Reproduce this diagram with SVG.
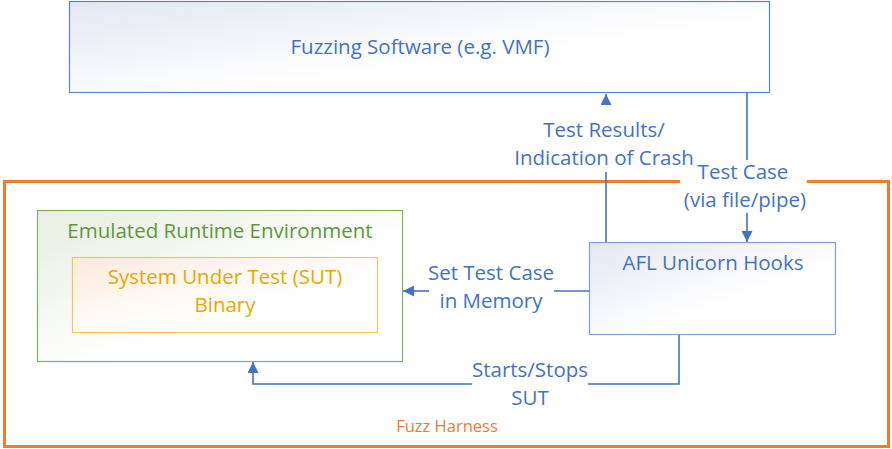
<svg xmlns="http://www.w3.org/2000/svg" width="892" height="449" viewBox="0 0 892 449">
<style>
text{font-family:"Open Sans","Liberation Sans",sans-serif;text-anchor:middle}
.b{fill:#4472c4;font-size:20.5px}
.g{fill:#5b9a3a;font-size:20.5px}
.y{fill:#e8a900;font-size:20.5px}
.o{fill:#ed7d31;font-size:16.5px}
.c{fill:none;stroke:#4472c4;stroke-width:1.6}
</style>
<defs>
<linearGradient id="gb" x1="0" y1="0" x2="1" y2="1"><stop offset="0" stop-color="#e4e7f3"/><stop offset="0.6" stop-color="#ffffff"/></linearGradient>
<linearGradient id="gg" x1="0" y1="0" x2="1" y2="1"><stop offset="0" stop-color="#e7eee2"/><stop offset="0.6" stop-color="#ffffff"/></linearGradient>
<linearGradient id="gy" x1="0" y1="0" x2="1" y2="1"><stop offset="0" stop-color="#fdeadb"/><stop offset="0.6" stop-color="#ffffff"/></linearGradient>
<marker id="ah" viewBox="0 0 10 10" refX="10" refY="5" markerWidth="11" markerHeight="11" markerUnits="userSpaceOnUse" orient="auto"><path d="M0,0L10,5L0,10z" fill="#4472c4"/></marker>
</defs>
<g id="harness">
<path d="M680,181.5H4.5V446.5H888.5V181.5H807" fill="none" stroke="#ed7d31" stroke-width="3"/>
<text class="o" x="447" y="432">Fuzz Harness</text>
</g>
<g id="fuzzer">
<rect x="69.5" y="1.5" width="700" height="91" fill="url(#gb)" stroke="#5f83c9" stroke-width="1.2"/>
<text class="b" x="420" y="54">Fuzzing Software (e.g. VMF)</text>
</g>
<g id="emulated">
<rect x="37.5" y="210.5" width="365" height="151" fill="url(#gg)" stroke="#7fb35a" stroke-width="1.2"/>
<text class="g" x="220" y="238">Emulated Runtime Environment</text>
</g>
<g id="sut">
<rect x="72.5" y="257.5" width="305" height="75" fill="url(#gy)" stroke="#f0c85a" stroke-width="1.2"/>
<text class="y" x="225" y="284">System Under Test (SUT)</text>
<text class="y" x="225" y="312">Binary</text>
</g>
<g id="afl">
<rect x="589.5" y="242.5" width="246" height="92" fill="url(#gb)" stroke="#7f9fd6" stroke-width="1.2"/>
<text class="b" x="713" y="270">AFL Unicorn Hooks</text>
</g>
<g id="connectors">
<path class="c" d="M606,242V172"/>
<path class="c" d="M606,104V94" marker-end="url(#ah)"/>
<text class="b" x="604" y="137">Test Results/</text>
<text class="b" x="604" y="165">Indication of Crash</text>
<path class="c" d="M747,92V160"/>
<path class="c" d="M747,213V242" marker-end="url(#ah)"/>
<text class="b" x="743" y="179">Test Case</text>
<text class="b" x="745" y="207">(via file/pipe)</text>
<path class="c" d="M589,291H554"/>
<path class="c" d="M429,291H403" marker-end="url(#ah)"/>
<text class="b" x="491" y="280">Set Test Case</text>
<text class="b" x="491" y="308">in Memory</text>
<path class="c" d="M679,335V384H588"/>
<path class="c" d="M472,384H253V362" marker-end="url(#ah)"/>
<text class="b" x="530" y="377">Starts/Stops</text>
<text class="b" x="530" y="405">SUT</text>
</g>
</svg>
